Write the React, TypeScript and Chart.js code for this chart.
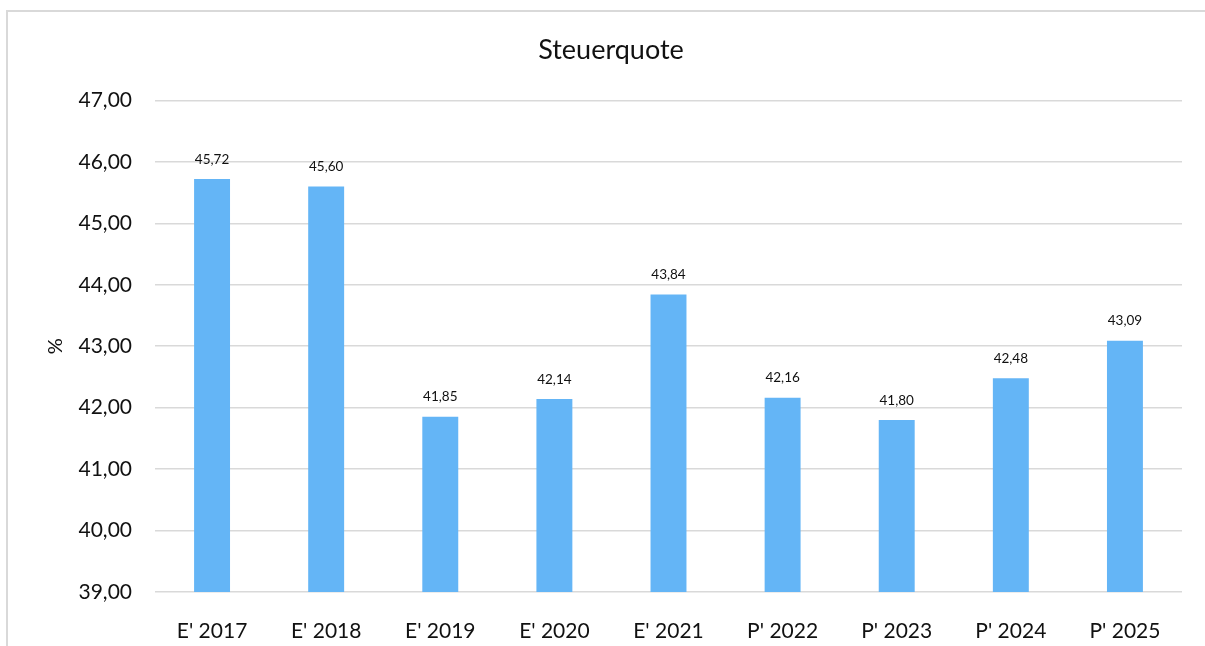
import React, { useEffect, useRef } from "react";
import { Chart, registerables } from "chart.js";

Chart.register(...registerables);

const categories = ["E' 2017", "E' 2018", "E' 2019", "E' 2020", "E' 2021", "P' 2022", "P' 2023", "P' 2024", "P' 2025"];
const values = [45.72, 45.6, 41.85, 42.14, 43.84, 42.16, 41.8, 42.48, 43.09];
const chartTitle = "Steuerquote";
const yAxisTitle = "%";
const yMin = 39;
const yMax = 47;

const FONT = "Lato, 'Liberation Sans', sans-serif";
const fmt = (v: number) => v.toFixed(2).replace(".", ",");

const dataLabels = {
  id: "dataLabels",
  afterDatasetsDraw(chart: any) {
    const ctx = chart.ctx;
    const meta = chart.getDatasetMeta(0);
    ctx.save();
    ctx.font = `13.5px ${FONT}`;
    ctx.fillStyle = "#111";
    ctx.textAlign = "center";
    ctx.textBaseline = "bottom";
    meta.data.forEach((bar: any, i: number) => {
      ctx.fillText(fmt(values[i]), bar.x, bar.y - 13);
    });
    ctx.restore();
  },
};

export default function App() {
  const ref = useRef<HTMLCanvasElement>(null);
  useEffect(() => {
    const chart = new Chart(ref.current!, {
      type: "bar",
      data: {
        labels: categories,
        datasets: [
          {
            data: values,
            backgroundColor: "#64B5F6",
            barPercentage: 0.315,
            categoryPercentage: 1,
          },
        ],
      },
      options: {
        animation: false,
        responsive: false,
        layout: { padding: { top: 10, left: 40, right: 23, bottom: 0 } },
        plugins: {
          legend: { display: false },
          tooltip: { enabled: false },
          title: {
            display: true,
            text: chartTitle,
            color: "#111",
            font: { family: FONT, size: 27, weight: "normal" },
            padding: { top: 24, bottom: 34 },
          },
        },
        scales: {
          x: {
            grid: { display: false },
            border: { display: false },
            ticks: { color: "#111", font: { family: FONT, size: 21 }, padding: 19 },
            afterFit: (s: any) => {
              s.height = 54;
            },
          },
          y: {
            min: yMin,
            max: yMax,
            grid: { color: "#d9d9d9", lineWidth: 1.5, drawTicks: false },
            border: { display: false },
            ticks: {
              stepSize: 1,
              color: "#111",
              font: { family: FONT, size: 21 },
              padding: 23,
              callback: (v: any) => fmt(Number(v)),
            },
            title: {
              display: true,
              text: yAxisTitle,
              color: "#111",
              font: { family: FONT, size: 20 },
              padding: 4,
            },
            afterFit: (s: any) => {
              s.width = 115;
            },
          },
        },
      },
      plugins: [dataLabels],
    });
    return () => chart.destroy();
  }, []);
  return (
    <div style={{ position: "fixed", left: 0, top: 0, width: 1205, height: 646, overflow: "hidden", background: "#fff" }}>
      <div
        style={{
          position: "absolute",
          left: 6,
          top: 10,
          width: 1300,
          height: 700,
          borderLeft: "2px solid #d9d9d9",
          borderTop: "2px solid #d9d9d9",
        }}
      />
      <canvas ref={ref} width={1205} height={646} style={{ position: "absolute", left: 0, top: 0 }} />
    </div>
  );
}
